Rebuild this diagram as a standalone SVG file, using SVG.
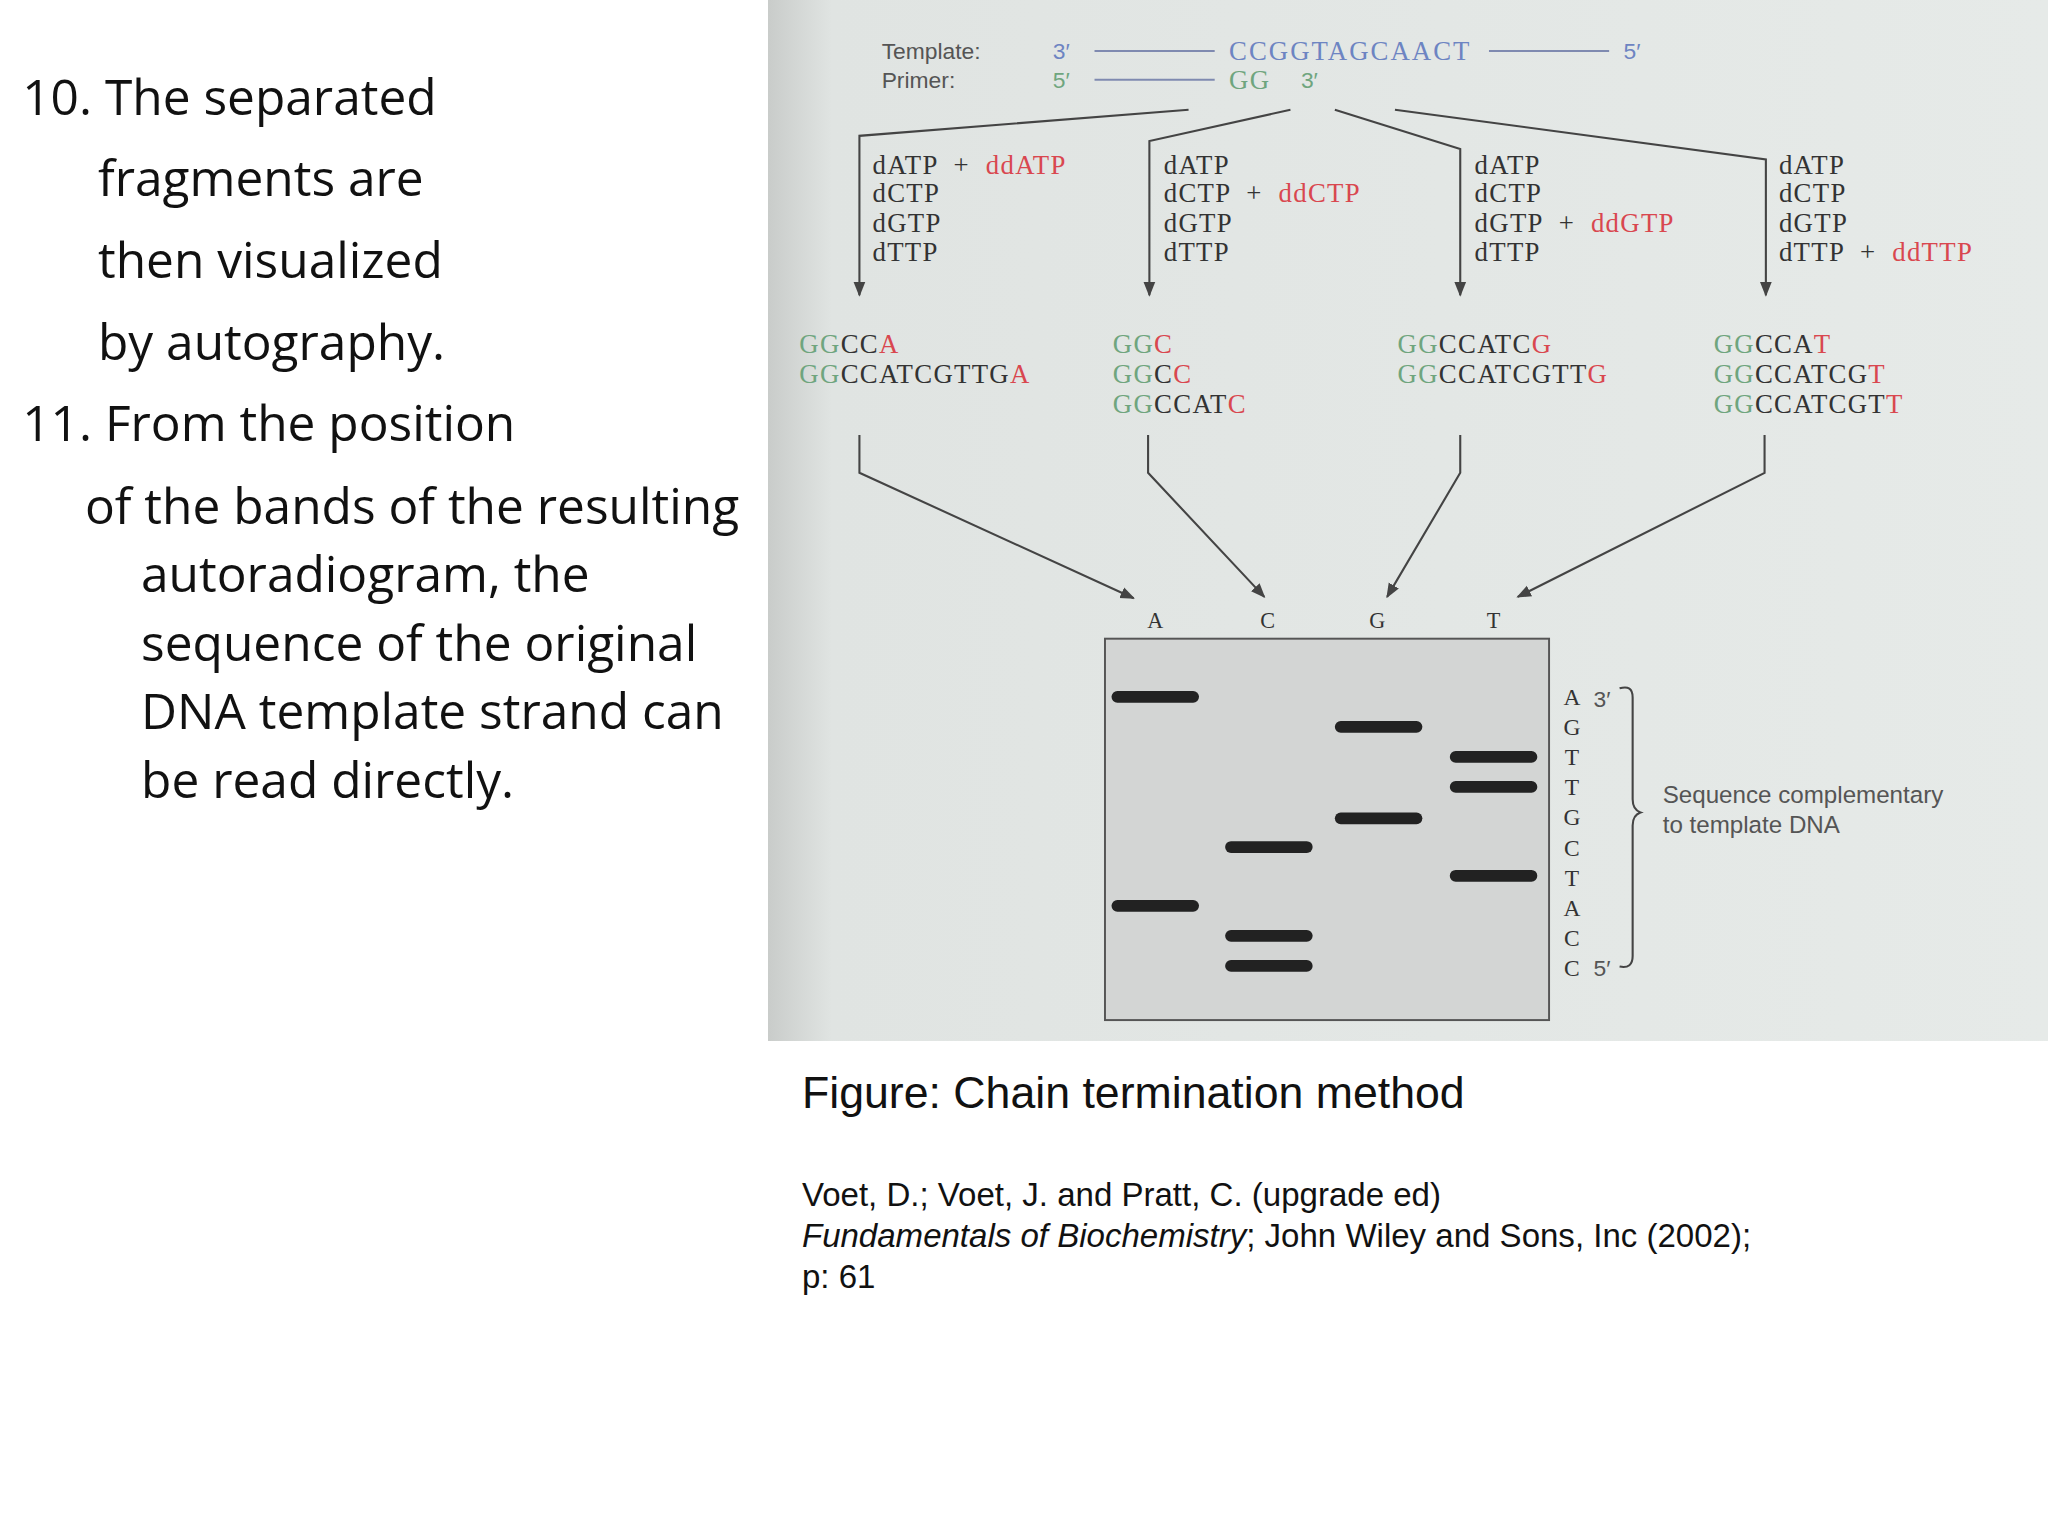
<svg xmlns="http://www.w3.org/2000/svg" width="2048" height="1536" viewBox="0 0 2048 1536">
<defs>
<style>
.lt{font-family:"Open Sans","Liberation Sans",sans-serif;font-size:38px;fill:#111}
.sf{font-family:"Liberation Serif","DejaVu Serif",serif;font-size:20.5px;letter-spacing:1px;fill:#333}
.ss{font-family:"Liberation Sans",Arial,sans-serif;font-size:17.5px;fill:#555}
.r{fill:#d9474f}.g{fill:#6fa57e}.b{fill:#6d84c2}
.ln{stroke:#444;stroke-width:1.6;fill:none}
.band{fill:#222}
.cap{font-family:"Liberation Sans",Arial,sans-serif;fill:#111}
</style>
<marker id="ah" viewBox="0 0 10 10" refX="9" refY="5" markerWidth="7" markerHeight="7" orient="auto-start-reverse"><path d="M0,1 L10,5 L0,9 z" fill="#444"/></marker>
<linearGradient id="bg" x1="0" x2="1" y1="0" y2="0"><stop offset="0" stop-color="#c9ccca"/><stop offset="0.05" stop-color="#e0e4e2"/><stop offset="1" stop-color="#e6eae8"/></linearGradient>
</defs>
<rect width="2048" height="1536" fill="#fff"/>
<g transform="scale(1.30612)">
<rect x="588" y="0" width="980" height="797" fill="url(#bg)"/>
<g id="left-text" class="lt">
<text x="17" y="88">10. The separated</text>
<text x="75" y="150">fragments are</text>
<text x="75" y="213">then visualized</text>
<text x="75" y="276">by autography.</text>
<text x="17" y="338">11. From the position</text>
<text x="65" y="401">of the bands of the resulting</text>
<text x="108" y="453">autoradiogram, the</text>
<text x="108" y="506">sequence of the original</text>
<text x="108" y="558">DNA template strand can</text>
<text x="108" y="611">be read directly.</text>
</g>
<g id="template">
<text class="ss" x="675" y="45">Template:</text>
<text class="ss" x="675" y="67">Primer:</text>
<text class="ss b" x="806" y="45">3′</text>
<line x1="838" y1="39" x2="930" y2="39" stroke="#7f8ab0" stroke-width="1.5"/>
<text class="sf b" x="941" y="46" textLength="185">CCGGTAGCAACT</text>
<line x1="1140" y1="39" x2="1232" y2="39" stroke="#7f8ab0" stroke-width="1.5"/>
<text class="ss b" x="1243" y="45">5′</text>
<text class="ss g" x="806" y="67">5′</text>
<line x1="838" y1="61" x2="930" y2="61" stroke="#7f8ab0" stroke-width="1.5"/>
<text class="sf g" x="941" y="68">GG</text>
<text class="ss g" x="996" y="67">3′</text>
</g>
<g id="connectors">
<path class="ln" d="M910,84 L658,104 L658,226" marker-end="url(#ah)"/>
<path class="ln" d="M988,84 L880,108 L880,226" marker-end="url(#ah)"/>
<path class="ln" d="M1022,84 L1118,114 L1118,226" marker-end="url(#ah)"/>
<path class="ln" d="M1068,84 L1352,122 L1352,226" marker-end="url(#ah)"/>
<path class="ln" d="M658,333 L658,362 L868,458" marker-end="url(#ah)"/>
<path class="ln" d="M879,333 L879,362 L968,457" marker-end="url(#ah)"/>
<path class="ln" d="M1118,333 L1118,362 L1062,457" marker-end="url(#ah)"/>
<path class="ln" d="M1351,333 L1351,362 L1162,457" marker-end="url(#ah)"/>
</g>
<g id="mix-a" class="sf"><text x="668" y="133">dATP <tspan dx="6">+</tspan> <tspan dx="6" class="r">ddATP</tspan></text><text x="668" y="155">dCTP</text><text x="668" y="178">dGTP</text><text x="668" y="200">dTTP</text></g>
<g id="mix-c" class="sf"><text x="891" y="133">dATP</text><text x="891" y="155">dCTP <tspan dx="6">+</tspan> <tspan dx="6" class="r">ddCTP</tspan></text><text x="891" y="178">dGTP</text><text x="891" y="200">dTTP</text></g>
<g id="mix-g" class="sf"><text x="1129" y="133">dATP</text><text x="1129" y="155">dCTP</text><text x="1129" y="178">dGTP <tspan dx="6">+</tspan> <tspan dx="6" class="r">ddGTP</tspan></text><text x="1129" y="200">dTTP</text></g>
<g id="mix-t" class="sf"><text x="1362" y="133">dATP</text><text x="1362" y="155">dCTP</text><text x="1362" y="178">dGTP</text><text x="1362" y="200">dTTP <tspan dx="6">+</tspan> <tspan dx="6" class="r">ddTTP</tspan></text></g>
<g id="frag-a" class="sf"><text x="612" y="270"><tspan class="g">GG</tspan>CC<tspan class="r">A</tspan></text><text x="612" y="293"><tspan class="g">GG</tspan>CCATCGTTG<tspan class="r">A</tspan></text></g>
<g id="frag-c" class="sf"><text x="852" y="270"><tspan class="g">GG</tspan><tspan class="r">C</tspan></text><text x="852" y="293"><tspan class="g">GG</tspan>C<tspan class="r">C</tspan></text><text x="852" y="316"><tspan class="g">GG</tspan>CCAT<tspan class="r">C</tspan></text></g>
<g id="frag-g" class="sf"><text x="1070" y="270"><tspan class="g">GG</tspan>CCATC<tspan class="r">G</tspan></text><text x="1070" y="293"><tspan class="g">GG</tspan>CCATCGTT<tspan class="r">G</tspan></text></g>
<g id="frag-t" class="sf"><text x="1312" y="270"><tspan class="g">GG</tspan>CCA<tspan class="r">T</tspan></text><text x="1312" y="293"><tspan class="g">GG</tspan>CCATCG<tspan class="r">T</tspan></text><text x="1312" y="316"><tspan class="g">GG</tspan>CCATCGT<tspan class="r">T</tspan></text></g>
<g id="gel">
<g class="sf" text-anchor="middle" style="font-size:17px"><text x="885" y="481">A</text><text x="971" y="481">C</text><text x="1055" y="481">G</text><text x="1144" y="481">T</text></g>
<rect x="846" y="489" width="340" height="292" fill="#d3d5d4" stroke="#555" stroke-width="1.5"/>
<g class="band">
<rect x="851" y="529" width="67" height="9" rx="4.5"/><rect x="851" y="689" width="67" height="9" rx="4.5"/>
<rect x="938" y="644" width="67" height="9" rx="4.5"/><rect x="938" y="712" width="67" height="9" rx="4.5"/><rect x="938" y="735" width="67" height="9" rx="4.5"/>
<rect x="1022" y="552" width="67" height="9" rx="4.5"/><rect x="1022" y="622" width="67" height="9" rx="4.5"/>
<rect x="1110" y="575" width="67" height="9" rx="4.5"/><rect x="1110" y="598" width="67" height="9" rx="4.5"/><rect x="1110" y="666" width="67" height="9" rx="4.5"/>
</g>
<g class="sf" text-anchor="middle" style="font-size:18px"><text x="1204" y="540">A</text><text x="1204" y="563">G</text><text x="1204" y="586">T</text><text x="1204" y="609">T</text><text x="1204" y="632">G</text><text x="1204" y="655">C</text><text x="1204" y="678">T</text><text x="1204" y="701">A</text><text x="1204" y="724">C</text><text x="1204" y="747">C</text></g>
<text class="ss" x="1220" y="541">3′</text>
<text class="ss" x="1220" y="747">5′</text>
<path class="ln" d="M1240,527 Q1250,524 1250,534 L1250,612 Q1250,620 1256,622 Q1250,624 1250,632 L1250,732 Q1250,742 1240,740" stroke-width="1.3"/>
<text class="ss" x="1273" y="615" style="font-size:18.5px">Sequence complementary</text>
<text class="ss" x="1273" y="638" style="font-size:18.5px">to template DNA</text>
</g>
<g id="caption" class="cap">
<text x="614" y="848" font-size="34.2">Figure: Chain termination method</text>
<text x="614" y="923" font-size="25.3">Voet, D.; Voet, J. and Pratt, C. (upgrade ed)</text>
<text x="614" y="955" font-size="25.3"><tspan font-style="italic">Fundamentals of Biochemistry</tspan>; John Wiley and Sons, Inc (2002);</text>
<text x="614" y="986" font-size="25.3">p: 61</text>
</g>
</g>
</svg>
